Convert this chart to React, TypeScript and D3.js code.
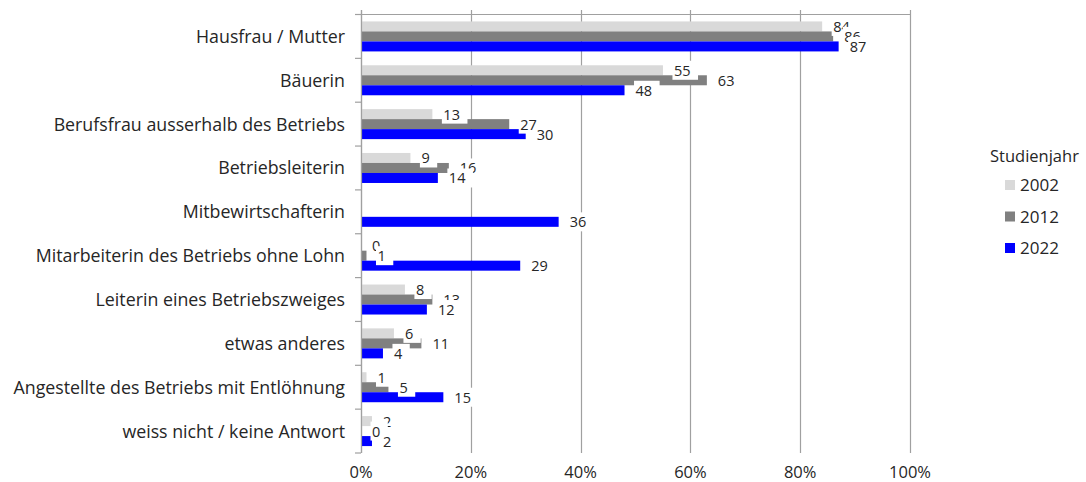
import React from "react";
import * as d3 from "d3";

const categories = [
  "Hausfrau / Mutter",
  "Bäuerin",
  "Berufsfrau ausserhalb des Betriebs",
  "Betriebsleiterin",
  "Mitbewirtschafterin",
  "Mitarbeiterin des Betriebs ohne Lohn",
  "Leiterin eines Betriebszweiges",
  "etwas anderes",
  "Angestellte des Betriebs mit Entlöhnung",
  "weiss nicht / keine Antwort",
];
const seriesNames = ["2002", "2012", "2022"];
const values2002: (number | null)[] = [84, 55, 13, 9, null, 0, 8, 6, 1, 2];
const values2012: (number | null)[] = [86, 63, 27, 16, null, 1, 13, 11, 5, 0];
const values2022: (number | null)[] = [87, 48, 30, 14, 36, 29, 12, 4, 15, 2];
const seriesColors = ["#d9d9d9", "#808080", "#0000ff"];
const xTicks = [0, 20, 40, 60, 80, 100];
const legendTitle = "Studienjahr";

const W = 1086;
const H = 482;
const FONT = "'Open Sans', 'Noto Sans', sans-serif";
const TEXT = "#262626";
const GRID = "#a0a0a0";

function measure(text: string, size: number) {
  if (typeof document === "undefined") return text.length * size * 0.55;
  const c = (measure as any).c || ((measure as any).c = document.createElement("canvas"));
  const ctx = c.getContext("2d");
  ctx.font = `${size}px 'Open Sans'`;
  return ctx.measureText(text).width;
}

export default function App() {
  const left = 361, right = 910, top = 14.5, bottom = 453;
  const x = d3.scaleLinear().domain([0, 100]).range([left, right]);
  const y0 = d3.scaleBand<string>().domain(categories).range([top, bottom]).padding(0);
  const groupH = 30;
  const y1 = d3.scaleBand<string>().domain(seriesNames).range([0, groupH]).padding(0);
  const series = [values2002, values2012, values2022];
  const off = (y0.bandwidth() - groupH) / 2;

  const barY = (ci: number, si: number) => (y0(categories[ci]) as number) + off + (y1(seriesNames[si]) as number);

  const valFont = 14.5;

  return (
    <svg width={W} height={H} style={{ position: "absolute", left: 0, top: 0, fontFamily: FONT }}>
      <rect width={W} height={H} fill="#fff" />
      {xTicks.map((t) => (
        <line key={t} x1={Math.round(x(t)) + 0.5} x2={Math.round(x(t)) + 0.5} y1={10} y2={bottom} stroke={GRID} strokeWidth={1.2} />
      ))}
      <line x1={355} x2={Math.round(right) + 0.5} y1={top} y2={top} stroke={GRID} strokeWidth={1.2} />
      {d3.range(categories.length + 1).map((i) => {
        const yy = top + i * y0.step();
        return <line key={i} x1={355} x2={left} y1={yy} y2={yy} stroke={GRID} strokeWidth={1.2} />;
      })}
      {series.map((vals, si) =>
        vals.map((v, ci) =>
          v == null ? null : (
            <rect key={`${si}-${ci}`} x={x(0)} y={barY(ci, si)} width={x(v) - x(0)} height={y1.bandwidth()} fill={seriesColors[si]} />
          )
        )
      )}
      <line x1={Math.round(left) + 0.5} x2={Math.round(left) + 0.5} y1={10} y2={bottom} stroke={GRID} strokeWidth={1.2} />
      {series.map((vals, si) =>
        vals.map((v, ci) => {
          if (v == null) return null;
          const cy = barY(ci, si) + y1.bandwidth() / 2;
          const bx = x(v) + 9.5;
          const tw = measure(String(v), valFont);
          return (
            <g key={`l${si}-${ci}`}>
              <rect x={bx} y={cy - 9.5} width={tw + 9} height={19} fill="#fff" />
              <text x={bx + 1.5} y={cy + 5.5} fontSize={valFont} fill={TEXT}>
                {v}
              </text>
            </g>
          );
        })
      )}
      {categories.map((c) => (
        <text key={c} x={345} y={(y0(c) as number) + y0.bandwidth() / 2 + 6.5} textAnchor="end" fontSize={17.8} fill={TEXT}>
          {c}
        </text>
      ))}
      {xTicks.map((t) => (
        <text key={t} x={x(t)} y={478} textAnchor="middle" fontSize={16.5} fill={TEXT}>
          {`${t}%`}
        </text>
      ))}
      <text x={990} y={162} fontSize={16.5} fill={TEXT}>
        {legendTitle}
      </text>
      {seriesNames.map((s, i) => {
        const cy = 185 + i * 31.5;
        return (
          <g key={s}>
            <rect x={1005} y={cy - 5} width={10} height={10} fill={seriesColors[i]} />
            <text x={1020} y={cy + 6} fontSize={17} fill={TEXT}>
              {s}
            </text>
          </g>
        );
      })}
    </svg>
  );
}
